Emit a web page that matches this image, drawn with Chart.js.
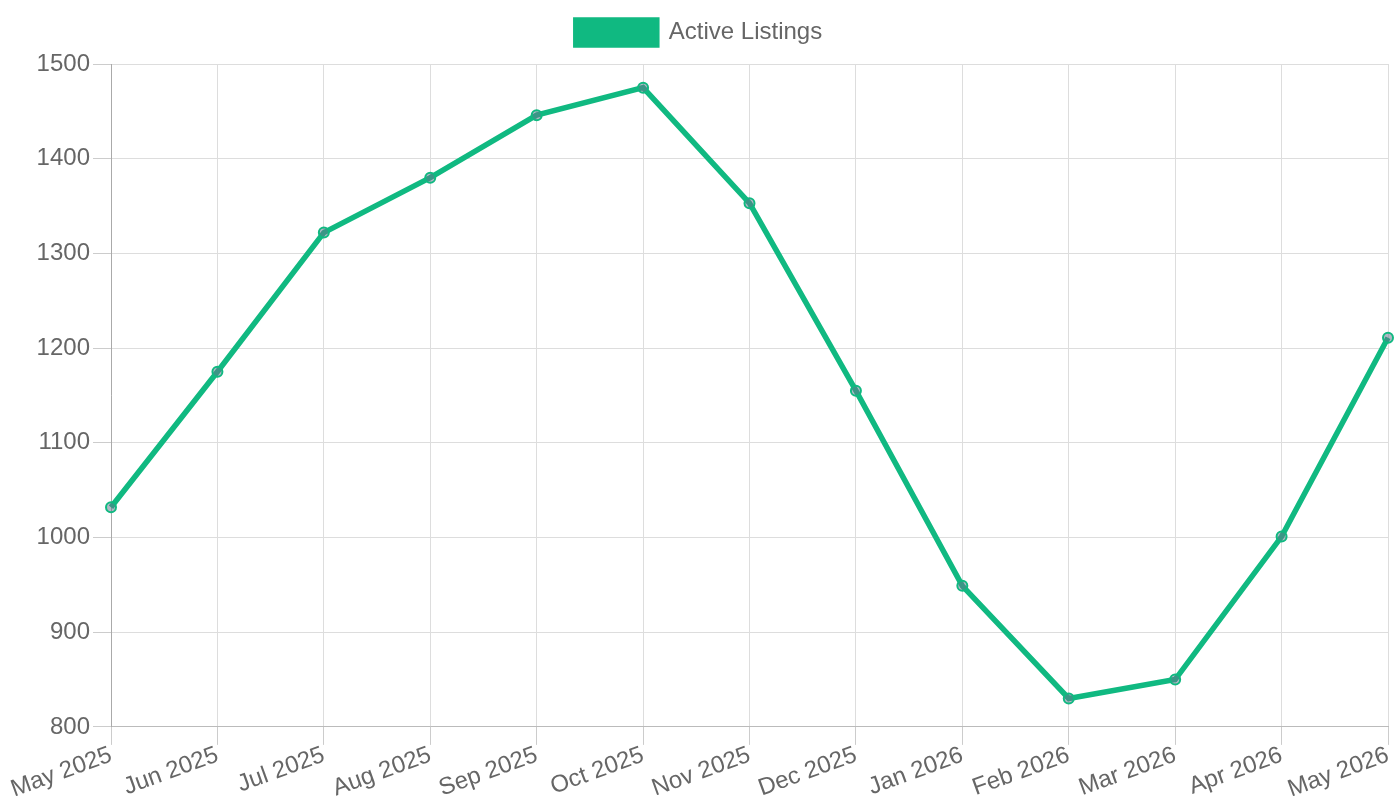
<!DOCTYPE html>
<html><head><meta charset="utf-8">
<script src="https://cdn.jsdelivr.net/npm/chart.js@4/dist/chart.umd.min.js"></script>
<style>html,body{margin:0;padding:0;background:#fff;}#wrap{width:1400px;height:800px;}</style>
</head><body><div id="wrap"><canvas id="c"></canvas></div>
<script>
const categories = ["May 2025","Jun 2025","Jul 2025","Aug 2025","Sep 2025","Oct 2025","Nov 2025","Dec 2025","Jan 2026","Feb 2026","Mar 2026","Apr 2026","May 2026"];
const activeListings = [1032,1175,1322,1380,1446,1475,1353,1155,949,830,850,1001,1211];
const seriesName = "Active Listings";
Chart.defaults.font.family = "'Liberation Sans', Arial, sans-serif";
Chart.defaults.color = "#666";
const legendSpacer = {
  id: 'legendSpacer',
  beforeInit(chart) {
    const orig = chart.legend.fit;
    chart.legend.fit = function () { orig.bind(chart.legend)(); this.height += 9; };
  }
};
new Chart(document.getElementById('c'), {
  type: 'line',
  data: { labels: categories, datasets: [{
    label: seriesName, data: activeListings,
    borderColor: '#10b981', backgroundColor: '#10b981', borderWidth: 5.5,
    pointRadius: 5, pointBorderWidth: 2, pointBorderColor: '#10b981',
    pointBackgroundColor: 'rgba(100,116,139,0.5)', tension: 0, fill: false
  }]},
  options: {
    responsive: true, maintainAspectRatio: false, animation: false,
    layout: { padding: { left: 10, right: 12, top: 1 } },
    plugins: { legend: { labels: { font: { size: 24 }, boxWidth: 81, boxHeight: 25, padding: 19 } } },
    scales: {
      x: { ticks: { font: { size: 24 }, maxRotation: 20, minRotation: 20, padding: -4 }, grid: { color: '#ddd', tickColor: '#ccc', drawTicks: true, tickLength: 18 }, border: { color: '#bbb' } },
      y: { min: 800, max: 1500, afterFit: s => { s.width = 101; }, ticks: { stepSize: 100, font: { size: 24 }, padding: 3, callback: v => String(v) }, grid: { color: '#ddd', tickColor: '#ccc', drawTicks: true, tickLength: 18 }, border: { color: '#aaa' } }
    }
  },
  plugins: [legendSpacer]
});
</script></body></html>
